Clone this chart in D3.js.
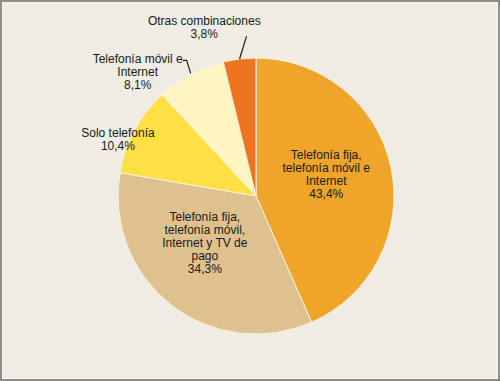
<!DOCTYPE html>
<html>
<head>
<meta charset="utf-8">
<script src="https://cdn.jsdelivr.net/npm/d3@7"></script>
<style>
  body { margin: 0; background: #eeece3; }
  svg { display: block; }
  text { font-family: "Liberation Sans", Arial, sans-serif; font-size: 12px; fill: #1a1a1a; }
</style>
</head>
<body>
<script>
(function(){
var categories = [
  "Telefonía fija, telefonía móvil e Internet",
  "Telefonía fija, telefonía móvil, Internet y TV de pago",
  "Solo telefonía",
  "Telefonía móvil e Internet",
  "Otras combinaciones"
];
var values = [43.4, 34.3, 10.4, 8.1, 3.8];
var labelLines = [
  ["Telefonía fija,", "telefonía móvil e", "Internet"],
  ["Telefonía fija,", "telefonía móvil,", "Internet y TV de", "pago"],
  ["Solo telefonía"],
  ["Telefonía móvil e", "Internet"],
  ["Otras combinaciones"]
];

var width = 500, height = 381,
    cx = 256, cy = 196, radius = 138;

var color = d3.scaleOrdinal()
  .domain(categories)
  .range(["#eea52a", "#dec18f", "#fee044", "#fff5c2", "#ed7521"]);

// label placement: radius factor + nudge, leader type
var layout = [
  {f: 0.52, dx: 0, dy: -7, leader: null},
  {f: 0.52, dx: -7, dy: -10, leader: null},
  {f: 1.08, dx: -7, dy: 14, leader: null},
  {f: 1.0, dx: -53, dy: -3, leader: "elbow"},
  {f: 1.2, dx: -32, dy: -4, leader: "straight"}
];

var svg = d3.select("body").append("svg")
  .attr("width", width)
  .attr("height", height);

svg.append("rect")
  .attr("x", 1).attr("y", 1)
  .attr("width", width - 2).attr("height", height - 2)
  .attr("fill", "#eeece3")
  .attr("stroke", "#8d8d89")
  .attr("stroke-width", 2);
svg.append("rect")
  .attr("x", 2.5).attr("y", 2.5)
  .attr("width", width - 5).attr("height", height - 5)
  .attr("fill", "none")
  .attr("stroke", "#f7f6f1")
  .attr("stroke-width", 1);

var pie = d3.pie().sort(null).value(function(d) { return d; });
var arcs = pie(values);

var arc = d3.arc().innerRadius(0).outerRadius(radius);

var g = svg.append("g")
  .attr("transform", "translate(" + cx + "," + cy + ")");

g.selectAll("path.slice")
  .data(arcs)
.enter().append("path")
  .attr("class", "slice")
  .attr("d", arc)
  .attr("fill", function(d, i) { return color(categories[i]); })
  .attr("stroke", "#f6f1de")
  .attr("stroke-width", 1);

var fmt = function(v) { return v.toFixed(1).replace(".", ",") + "%"; };
var lh = 13;

arcs.forEach(function(d, i) {
  var mid = (d.startAngle + d.endAngle) / 2;
  var L = layout[i];
  var lx = Math.sin(mid) * radius * L.f + L.dx,
      ly = -Math.cos(mid) * radius * L.f + L.dy;
  var lines = labelLines[i].concat([fmt(values[i])]);
  var top = ly - (lines.length - 1) * lh / 2;

  var t = g.append("text")
    .attr("text-anchor", "middle");
  lines.forEach(function(s, k) {
    t.append("tspan")
      .attr("x", lx)
      .attr("y", top + k * lh)
      .attr("dy", "0.35em")
      .text(s);
  });

  if (L.leader) {
    var sx = Math.sin(mid) * radius, sy = -Math.cos(mid) * radius;
    var pts;
    if (L.leader === "elbow") {
      pts = [[sx, sy - 1], [sx - 4, top + 2], [sx - 8, top + 2]];
    } else {
      pts = [[sx, sy], [sx + 7, top + 15]];
    }
    g.append("path")
      .attr("d", d3.line()(pts))
      .attr("fill", "none")
      .attr("stroke", "#1a1a1a")
      .attr("stroke-width", 1.2);
  }
});
})();
</script>
</body>
</html>
